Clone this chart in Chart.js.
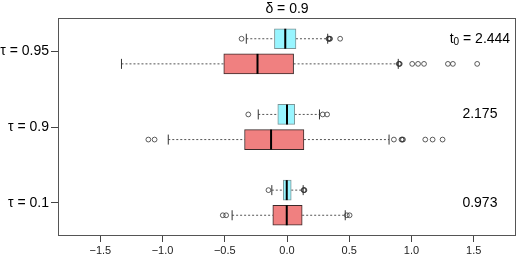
<!DOCTYPE html>
<html><head><meta charset="utf-8">
<script src="https://cdn.jsdelivr.net/npm/chart.js@4.4.1/dist/chart.umd.min.js"></script>
<style>html,body{margin:0;padding:0;background:#fff;}#wrap{width:528px;height:264px;}</style>
</head><body><div id="wrap"><canvas id="c" width="528" height="264"></canvas></div>
<script>
// ---- data ----
const titleText = 'δ = 0.9';
const groupLabels = ['τ = 0.95', 'τ = 0.9', 'τ = 0.1'];
const xTickValues = [-1.5, -1.0, -0.5, 0.0, 0.5, 1.0, 1.5];
const t0Values = ['2.444', '2.175', '0.973'];

// cyan series (upper box in each group)
const cyanLo  = [-0.327, -0.231, -0.122];
const cyanQ1  = [-0.101, -0.074, -0.030];
const cyanMed = [-0.014,  0.000, -0.002];
const cyanQ3  = [ 0.072,  0.062,  0.034];
const cyanHi  = [ 0.327,  0.261,  0.130];
const cyanOut = [
  [-0.365, 0.333, 0.337, 0.342, 0.346, 0.427],
  [-0.311, 0.287, 0.322],
  [-0.149, 0.133, 0.137, 0.140]
];
// red series (lower box in each group)
const redLo  = [-1.330, -0.954, -0.441];
const redQ1  = [-0.508, -0.341, -0.114];
const redMed = [-0.237, -0.128, -0.002];
const redQ3  = [ 0.053,  0.136,  0.122];
const redHi  = [ 0.894,  0.820,  0.468];
const redOut = [
  [0.898, 0.902, 0.906, 1.006, 1.053, 1.101, 1.293, 1.333, 1.528],
  [-1.114, -1.064, 0.859, 0.920, 0.926, 0.932, 1.111, 1.170, 1.250],
  [-0.516, -0.489, 0.481, 0.503]
];

// ---- building ----
const FONT = '"Liberation Sans", Arial, Helvetica, sans-serif';
Chart.defaults.font.family = FONT;
const OFF = 0.166;
const gy = (i, off) => i + 1 + off;
function boxData(q1, q3, off) { return q1.map((v, i) => ({ x: [v, q3[i]], y: gy(i, off) })); }
function whiskerData(lo, q1, q3, hi, off) {
  const d = [];
  q1.forEach((v, i) => {
    const y = gy(i, off);
    d.push({ x: lo[i], y }, { x: v, y }, { x: null, y: null }, { x: q3[i], y }, { x: hi[i], y }, { x: null, y: null });
  });
  return d;
}
function capData(lo, hi, off) { const d = []; lo.forEach((v, i) => { d.push({ x: v, y: gy(i, off) }, { x: hi[i], y: gy(i, off) }); }); return d; }
function medData(m, off) { return m.map((v, i) => ({ x: v, y: gy(i, off) })); }
function outData(o, off) { const d = []; o.forEach((arr, i) => arr.forEach(v => d.push({ x: v, y: gy(i, off) }))); return d; }

const series = [
  { lo: cyanLo, q1: cyanQ1, med: cyanMed, q3: cyanQ3, hi: cyanHi, out: cyanOut, off: -OFF, fill: '#98F5FF', border: '#7d9597' },
  { lo: redLo, q1: redQ1, med: redMed, q3: redQ3, hi: redHi, out: redOut, off: OFF, fill: '#F08080', border: '#3a2a2a' }
];
const datasets = [];
series.forEach(s => {
  datasets.push({ type: 'bar', indexAxis: 'y', data: boxData(s.q1, s.q3, s.off), backgroundColor: s.fill, borderColor: s.border,
    borderWidth: 1, borderSkipped: false, barThickness: 20, grouped: false, order: 3 });
  datasets.push({ type: 'line', data: whiskerData(s.lo, s.q1, s.q3, s.hi, s.off), borderColor: '#555', borderWidth: 1,
    borderDash: [2, 2], pointRadius: 0, spanGaps: false, fill: false, tension: 0, order: 5 });
  datasets.push({ type: 'scatter', data: capData(s.lo, s.hi, s.off), pointStyle: 'line', rotation: 90, pointRotation: 90,
    pointRadius: 5, pointBorderWidth: 1, pointBorderColor: '#333', order: 2 });
  datasets.push({ type: 'scatter', data: medData(s.med, s.off), pointStyle: 'line', rotation: 90, pointRotation: 90,
    pointRadius: 10, pointBorderWidth: 2, pointBorderColor: '#000', order: 1 });
  datasets.push({ type: 'scatter', data: outData(s.out, s.off), pointStyle: 'circle', pointRadius: 2.4,
    pointBorderWidth: 0.8, pointBorderColor: '#333', pointBackgroundColor: 'rgba(0,0,0,0)', order: 2 });
});

const fmt = v => (v < 0 ? '\u2212' : '') + Math.abs(v).toFixed(1);

const annot = {
  id: 'annot',
  afterDraw(chart) {
    const { ctx, chartArea: a, scales: { x, y } } = chart;
    ctx.save();
    ctx.strokeStyle = '#555'; ctx.lineWidth = 1;
    ctx.strokeRect(Math.round(a.left) + 0.5, Math.round(a.top) + 0.5, Math.round(a.right - a.left) - 1, Math.round(a.bottom - a.top) - 1);
    ctx.fillStyle = '#000';
    ctx.textBaseline = 'middle';
    ctx.font = '14px ' + FONT;
    ctx.textAlign = 'center';
    ctx.fillText(titleText, (a.left + a.right) / 2, 9);
    const cx = x.getPixelForValue(1.55);
    // first: t0 = value
    const big = '14px ' + FONT, small = '10px ' + FONT;
    ctx.font = big; const w1 = ctx.measureText('t').width;
    ctx.font = small; const w2 = ctx.measureText('0').width;
    ctx.font = big; const rest = ' = ' + t0Values[0]; const w3 = ctx.measureText(rest).width;
    const y0 = y.getPixelForValue(gy(0, -OFF));
    let sx = cx - (w1 + w2 + w3) / 2;
    ctx.textAlign = 'left';
    ctx.fillText('t', sx, y0);
    ctx.font = small; ctx.fillText('0', sx + w1, y0 + 4);
    ctx.font = big; ctx.fillText(rest, sx + w1 + w2, y0);
    ctx.textAlign = 'center';
    ctx.fillText(t0Values[1], cx, y.getPixelForValue(gy(1, -OFF)));
    ctx.fillText(t0Values[2], cx, y.getPixelForValue(gy(2, 0)));
    ctx.restore();
  }
};

new Chart(document.getElementById('c'), {
  type: 'bar',
  data: { datasets },
  options: {
    responsive: false, animation: false, events: [], indexAxis: 'y',
    layout: { padding: { top: 18, right: 9, left: 0, bottom: 0 } },
    plugins: { legend: { display: false }, tooltip: { enabled: false }, title: { display: false } },
    scales: {
      x: {
        type: 'linear', position: 'bottom', min: -1.84, max: 1.84, offset: false,
        afterBuildTicks: s => { s.ticks = xTickValues.map(v => ({ value: v })); },
        afterFit: s => { s.height = 28; },
        ticks: { callback: v => fmt(v), font: { size: 11 }, color: '#222', padding: 2, maxRotation: 0, autoSkip: false },
        grid: { drawOnChartArea: false, drawTicks: true, tickLength: 6, tickColor: '#444', offset: false },
        border: { display: false }
      },
      y: {
        type: 'linear', position: 'left', reverse: true, min: 0.56, max: 3.44, offset: false,
        afterBuildTicks: s => { s.ticks = groupLabels.map((_, i) => ({ value: i + 1 })); },
        afterFit: s => { s.width = 58; },
        ticks: { callback: v => groupLabels[Math.round(v) - 1], font: { size: 14 }, color: '#000', padding: 2, autoSkip: false },
        grid: { drawOnChartArea: false, drawTicks: true, tickLength: 7, tickColor: '#444', offset: false },
        border: { display: false }
      }
    }
  },
  plugins: [annot]
});
</script>
</body></html>
